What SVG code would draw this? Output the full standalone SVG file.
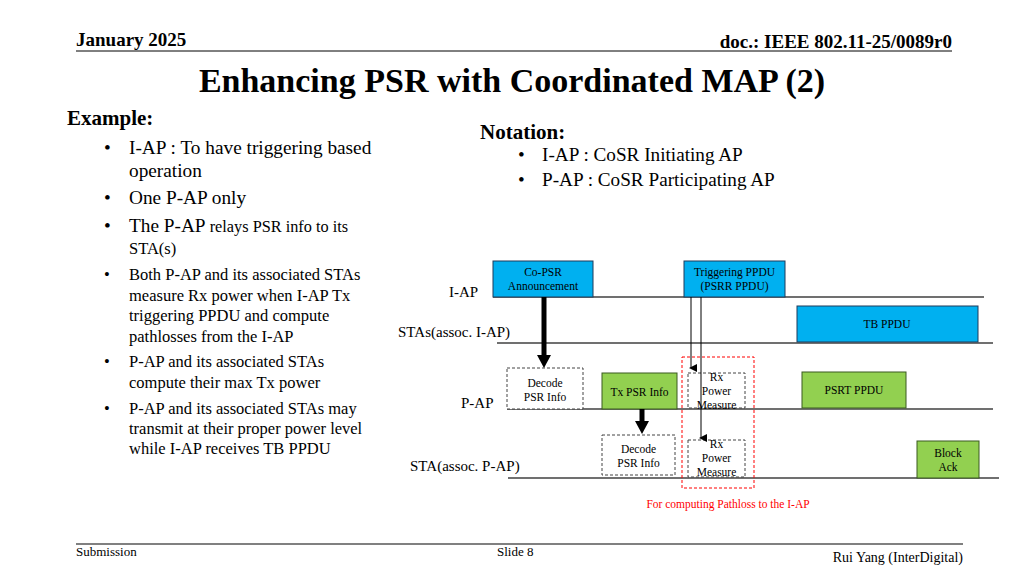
<svg xmlns="http://www.w3.org/2000/svg" width="1024" height="576" viewBox="0 0 1024 576">
<style>
text{font-family:"Liberation Serif","Times New Roman",serif;fill:#000}
.b{font-weight:bold}
.lbl{font-size:15px}
.sm{font-size:11.5px}
.blue{fill:#00B0F0;stroke:#1F3B5A;stroke-width:1}
.green{fill:#92D050;stroke:#3A5A20;stroke-width:1}
.dash{fill:#fff;stroke:#444;stroke-width:1;stroke-dasharray:3,2}
.tl{stroke:#404040;stroke-width:1.3}
.c{text-anchor:middle}
</style>
<defs>
<marker id="ah" markerWidth="8" markerHeight="8" refX="4" refY="6" orient="auto" markerUnits="userSpaceOnUse" viewBox="0 0 8 8">
<path d="M0,0 L8,0 L4,8 Z" fill="#000"/>
</marker>
</defs>
<rect width="1024" height="576" fill="#fff"/>
<!-- header -->
<text class="b" x="76" y="46" font-size="19">January 2025</text>
<text class="b" x="952" y="48" font-size="19" text-anchor="end">doc.: IEEE 802.11-25/0089r0</text>
<line x1="76" y1="51" x2="952" y2="51" stroke="#000" stroke-width="1"/>
<text class="b c" x="512" y="92" font-size="34">Enhancing PSR with Coordinated MAP (2)</text>
<!-- left text -->
<text class="b" x="67" y="125" font-size="21">Example:</text>
<g font-size="19.3">
<text x="104" y="154">•</text><text x="129" y="154">I-AP : To have triggering based</text>
<text x="129" y="177">operation</text>
<text x="104" y="204">•</text><text x="129" y="204">One P-AP only</text>
<text x="104" y="232">•</text><text x="129" y="232">The P-AP <tspan font-size="16.3">relays PSR info to its</tspan></text>
</g>
<g font-size="16.5">
<text x="129" y="254">STA(s)</text>
<text x="104" y="280">•</text><text x="129" y="280">Both P-AP and its associated STAs</text>
<text x="129" y="301">measure Rx power when I-AP Tx</text>
<text x="129" y="321">triggering PPDU and compute</text>
<text x="129" y="342">pathlosses from the I-AP</text>
<text x="104" y="367">•</text><text x="129" y="367">P-AP and its associated STAs</text>
<text x="129" y="388">compute their max Tx power</text>
<text x="104" y="414">•</text><text x="129" y="414">P-AP and its associated STAs may</text>
<text x="129" y="434">transmit at their proper power level</text>
<text x="129" y="454">while I-AP receives TB PPDU</text>
</g>
<!-- notation -->
<text class="b" x="480" y="139" font-size="21">Notation:</text>
<g font-size="19.2">
<text x="518" y="161">•</text><text x="542" y="161">I-AP : CoSR Initiating AP</text>
<text x="518" y="186">•</text><text x="542" y="186">P-AP : CoSR Participating AP</text>
</g>
<!-- lane labels -->
<text class="lbl" x="449" y="297">I-AP</text>
<text class="lbl" x="398" y="337">STAs(assoc. I-AP)</text>
<text class="lbl" x="461" y="408">P-AP</text>
<text class="lbl" x="410" y="471">STA(assoc. P-AP)</text>
<!-- timelines -->
<g id="timelines">
<line class="tl" x1="493" y1="297" x2="984" y2="297"/>
<line class="tl" x1="497" y1="343" x2="993" y2="343"/>
<line class="tl" x1="507" y1="409" x2="993" y2="409"/>
<line class="tl" x1="508" y1="478" x2="999" y2="478"/>
</g>
<!-- nodes -->
<g id="copsr">
<rect class="blue" x="493" y="261" width="100" height="36"/>
<text class="sm c" x="543" y="276">Co-PSR</text>
<text class="sm c" x="543" y="290">Announcement</text>
</g>
<g id="trig">
<rect class="blue" x="684" y="261" width="101" height="36"/>
<text class="sm c" x="734.5" y="276">Triggering PPDU</text>
<text class="sm c" x="734.5" y="290">(PSRR PPDU)</text>
</g>
<g id="tbppdu">
<rect class="blue" x="797" y="306" width="181" height="36"/>
<text class="sm c" x="887" y="328">TB PPDU</text>
</g>
<g id="decode1">
<rect class="dash" x="507" y="368" width="76" height="41"/>
<text class="sm c" x="545" y="387">Decode</text>
<text class="sm c" x="545" y="401">PSR Info</text>
</g>
<g id="txpsr">
<rect class="green" x="602" y="373" width="75" height="36"/>
<text class="sm c" x="639.5" y="396">Tx PSR Info</text>
</g>
<g id="psrt">
<rect class="green" x="802" y="372" width="104" height="36"/>
<text class="sm c" x="854" y="394">PSRT PPDU</text>
</g>
<g id="decode2">
<rect class="dash" x="602" y="435" width="73" height="40"/>
<text class="sm c" x="638.5" y="453">Decode</text>
<text class="sm c" x="638.5" y="467">PSR Info</text>
</g>
<g id="blockack">
<rect class="green" x="917" y="441" width="62" height="37"/>
<text class="sm c" x="948" y="457">Block</text>
<text class="sm c" x="948" y="471">Ack</text>
</g>
<g id="rx1">
<rect class="dash" x="688" y="373" width="57" height="35"/>
<text class="sm c" x="716.5" y="381">Rx</text>
<text class="sm c" x="716.5" y="395">Power</text>
<text class="sm c" x="716.5" y="409">Measure</text>
</g>
<g id="rx2">
<rect class="dash" x="688" y="440" width="57" height="37"/>
<text class="sm c" x="716.5" y="448">Rx</text>
<text class="sm c" x="716.5" y="462">Power</text>
<text class="sm c" x="716.5" y="476">Measure</text>
</g>
<g id="pathloss">
<rect x="682" y="357" width="72" height="131" fill="none" stroke="#FF0000" stroke-width="1" stroke-dasharray="3,2"/>
<text class="sm c" x="728" y="508" style="fill:#FF0000">For computing Pathloss to the I-AP</text>
</g>
<!-- connectors -->
<g id="connectors">
<line x1="544" y1="297" x2="544" y2="356" stroke="#000" stroke-width="5"/>
<polygon points="537,355 551,355 544,368" fill="#000"/>
<line x1="642" y1="409" x2="642" y2="422" stroke="#000" stroke-width="5"/>
<polygon points="635,421 649,421 642,434" fill="#000"/>
<line x1="691" y1="297" x2="691" y2="368" stroke="#000" stroke-width="1" marker-end="url(#ah)"/>
<line x1="701" y1="297" x2="701" y2="438" stroke="#000" stroke-width="1" marker-end="url(#ah)"/>
</g>
<!-- footer -->
<line x1="76" y1="544" x2="963" y2="544" stroke="#808080" stroke-width="2"/>
<text x="76" y="556" font-size="13">Submission</text>
<text x="497" y="556" font-size="13">Slide 8</text>
<text x="963" y="562" font-size="14" text-anchor="end">Rui Yang (InterDigital)</text>
</svg>
